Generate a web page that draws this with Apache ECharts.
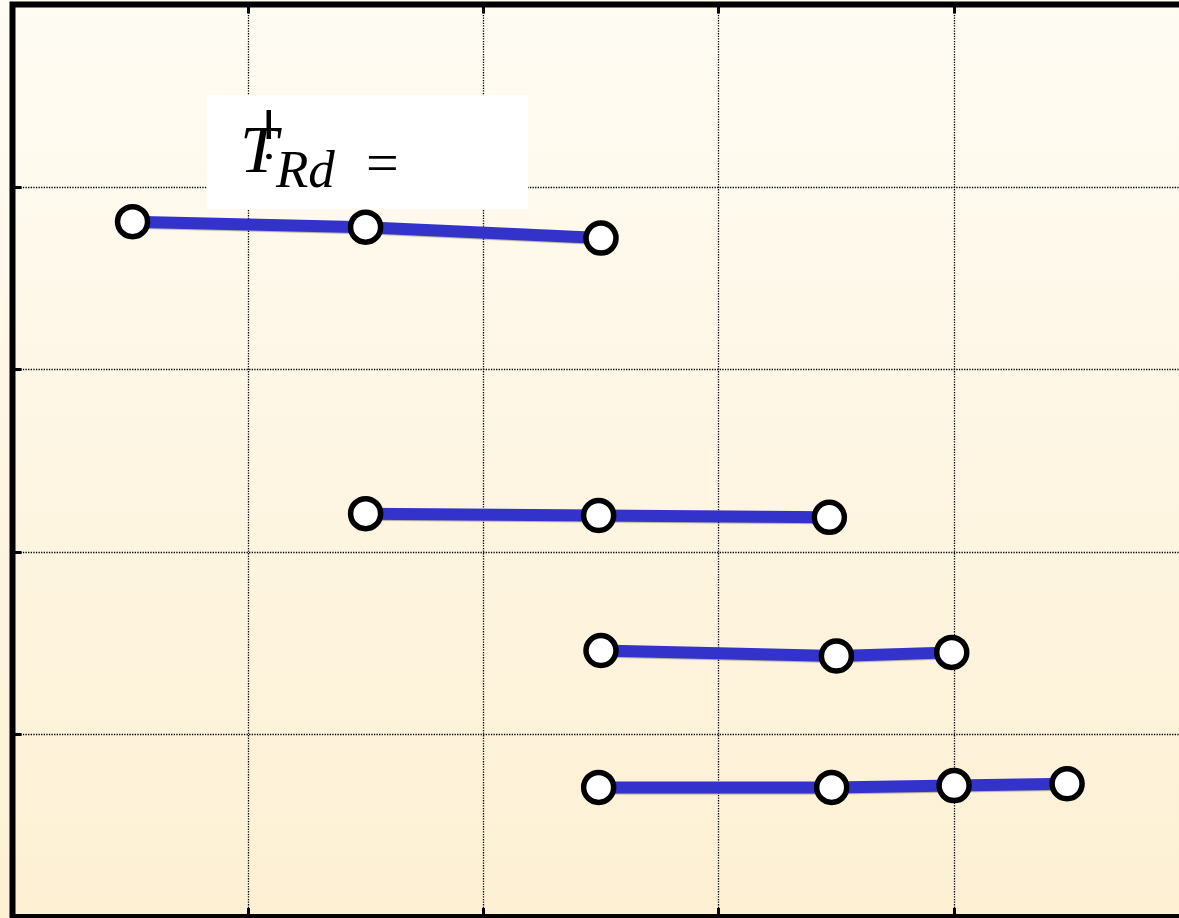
<!DOCTYPE html>
<html>
<head>
<meta charset="utf-8">
<script src="https://cdn.jsdelivr.net/npm/echarts@6/dist/echarts.min.js"></script>
<style>
html,body{margin:0;padding:0;background:#fff;}
#chart{width:1179px;height:918px;}
</style>
</head>
<body>
<div id="chart"></div>
<script>
// Data (x in axis units, y in axis units)
const s1X = [5.1, 15.0, 25.0];
const s1Y = [38.1, 37.8, 37.2];
const s2X = [15.0, 24.9, 34.7];
const s2Y = [22.1, 22.0, 21.9];
const s3X = [25.0, 35.0, 39.9];
const s3Y = [14.6, 14.3, 14.5];
const s4X = [24.9, 34.8, 40.0, 44.8];
const s4Y = [7.1, 7.1, 7.2, 7.3];
const labelMain = 'T';
const labelSub = 'Rd';
const labelEq = '=';

function pairs(xs, ys){ return xs.map((x,i)=>[x, ys[i]]); }

const chart = echarts.init(document.getElementById('chart'), null, {renderer:'canvas'});

const lineSeries = [[s1X,s1Y],[s2X,s2Y],[s3X,s3Y],[s4X,s4Y]].map(([xs,ys]) => ({
  type:'line',
  data: pairs(xs,ys),
  symbol:'circle',
  symbolSize:30,
  showSymbol:true,
  animation:false,
  clip:false,
  lineStyle:{color:'#3333cc', width:12, shadowColor:'rgba(0,0,0,0.3)', shadowBlur:1, shadowOffsetY:1},
  itemStyle:{color:'#ffffff', borderColor:'#000000', borderWidth:5.5},
  emphasis:{disabled:true},
  z:3
}));

const tickStyle = {show:true, inside:true, length:9, lineStyle:{color:'#000', width:3}};
const gridLine = {show:true, lineStyle:{color:'#000', width:1.3, type:'dotted'}};
const serif = '"Liberation Serif", serif';

chart.setOption({
  animation:false,
  backgroundColor:{
    type:'linear', x:0, y:0, x2:0, y2:1,
    colorStops:[{offset:0,color:'#fffcf4'},{offset:1,color:'#fdf0d3'}]
  },
  grid:{
    left:12.5, top:4.5, right:-10.5, bottom:1,
    outerBoundsMode:'none', containLabel:false,
    show:true, borderColor:'#000', borderWidth:6, backgroundColor:'transparent'
  },
  xAxis:[
    {type:'value', min:0, max:50, interval:10, position:'bottom',
     axisLine:{show:false}, axisTick:tickStyle, axisLabel:{show:false}, splitLine:gridLine},
    {type:'value', min:0, max:50, interval:10, position:'top',
     axisLine:{show:false}, axisTick:tickStyle, axisLabel:{show:false}, splitLine:{show:false}}
  ],
  yAxis:[
    {type:'value', min:0, max:50, interval:10, position:'left',
     axisLine:{show:false}, axisTick:tickStyle, axisLabel:{show:false}, splitLine:gridLine}
  ],
  series: lineSeries,
  graphic:[
    {type:'rect', left:207, top:95, shape:{width:321, height:114}, style:{fill:'#ffffff'}, z:10},
    {type:'text', left:240, top:120, z:11,
     style:{text:labelMain, fontFamily:serif, fontStyle:'italic', fontSize:68, fill:'#000'}},
    {type:'text', left:276, top:147, z:11,
     style:{text:labelSub, fontFamily:serif, fontStyle:'italic', fontSize:53, fill:'#000'}},
    {type:'text', left:366, top:138, z:11,
     style:{text:labelEq, fontFamily:serif, fontSize:58, fill:'#000'}},
    {type:'rect', left:266.5, top:110, shape:{width:4.5, height:29}, style:{fill:'#000'}, z:12},
    {type:'circle', shape:{cx:269, cy:156.5, r:2.8}, style:{fill:'#000'}, z:12}
  ]
});
</script>
</body>
</html>
